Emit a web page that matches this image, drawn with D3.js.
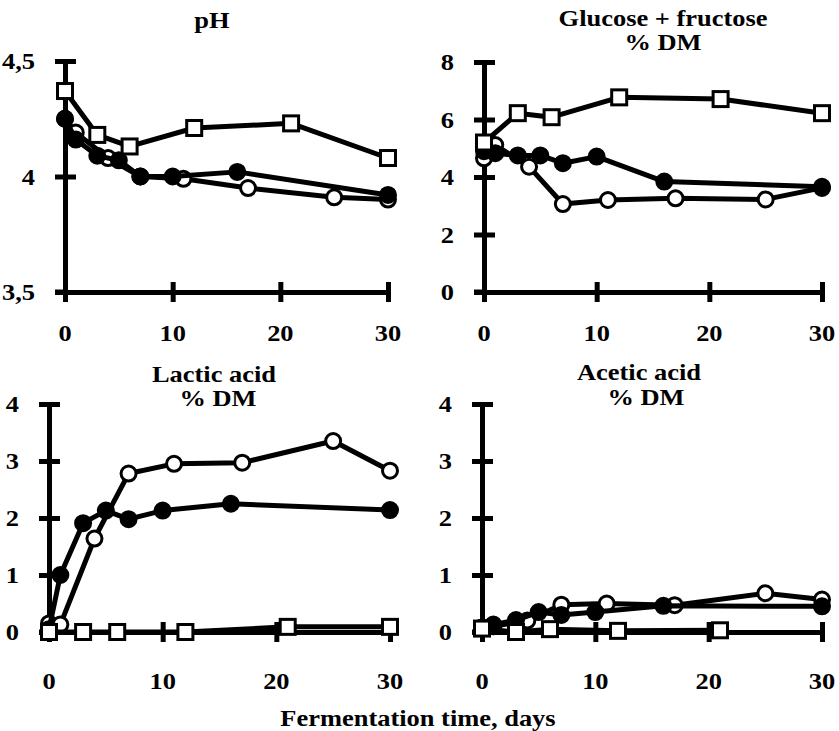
<!DOCTYPE html>
<html>
<head>
<meta charset="utf-8">
<script src="https://cdn.jsdelivr.net/npm/d3@7"></script>
<style>
  body { margin: 0; background: #fff; }
  text { font-family: "Liberation Serif", "Times New Roman", serif; font-weight: bold; fill: #000; }
</style>
</head>
<body>
<svg id="chart" width="839" height="731"></svg>
<script>
// sampling days for each series
const daysOpen = [0, 1, 4, 7, 11, 17, 25, 30];
const daysFilled = [0, 1, 3, 5, 7, 10, 16, 30];
const daysSquare = [0, 3, 6, 12, 21, 30];

// pH
const phOpen = [4.25, 4.19, 4.08, 4.0, 3.99, 3.95, 3.91, 3.90];
const phFilled = [4.25, 4.16, 4.09, 4.07, 4.0, 4.0, 4.02, 3.92];
const phSquare = [4.37, 4.18, 4.13, 4.21, 4.23, 4.08];

// glucose + fructose, % DM
const sugOpen = [4.65, 5.11, 4.36, 3.06, 3.2, 3.26, 3.22, 3.62];
const sugFilled = [4.9, 4.83, 4.75, 4.75, 4.48, 4.71, 3.84, 3.66];
const sugSquare = [5.2, 6.22, 6.08, 6.77, 6.71, 6.22];

// lactic acid, % DM
const lacOpen = [0.15, 0.13, 1.64, 2.78, 2.95, 2.97, 3.35, 2.83];
const lacFilled = [0.05, 1.0, 1.91, 2.13, 1.98, 2.13, 2.25, 2.14];
const lacSquare = [0, 0, 0, 0, 0.09, 0.09];

// acetic acid, % DM (no square at day 30)
const aceOpen = [0.08, 0.1, 0.2, 0.48, 0.5, 0.47, 0.68, 0.57];
const aceFilled = [0.08, 0.13, 0.21, 0.35, 0.3, 0.35, 0.46, 0.45];
const aceSquare = [0.06, 0, 0.05, 0.02, 0.03, null];

// tick labels
const dayTicks = [0, 10, 20, 30];
const phTicks = [3.5, 4, 4.5];
const sugTicks = [0, 2, 4, 6, 8];
const acidTicks = [0, 1, 2, 3, 4];

const svg = d3.select('#chart');
const SX = 1.15; // the original lettering is stretched sideways

function label(x, y, str, anchor) {
  svg.append('g')
    .attr('transform', 'translate(' + x + ',' + y + ') scale(' + SX + ',1)')
    .append('text')
    .attr('text-anchor', anchor || 'middle')
    .attr('font-size', '23px')
    .text(str);
}

function panel(p) {
  const x = d3.scaleLinear().domain([0, 30]).range([p.left, p.right]);
  const y = d3.scaleLinear().domain(p.ydom).range([p.bottom, p.top]);

  // axes with ticks crossing the line
  svg.append('g')
    .attr('transform', 'translate(0,' + p.bottom + ')')
    .call(d3.axisBottom(x).tickValues(dayTicks).tickSizeOuter(0).tickFormat(''))
    .call(g => g.select('.domain').attr('stroke-width', 5))
    .call(g => g.selectAll('.tick line').attr('y1', -10).attr('y2', 10).attr('stroke-width', 5));

  svg.append('g')
    .attr('transform', 'translate(' + p.left + ',0)')
    .call(d3.axisLeft(y).tickValues(p.ticks).tickSizeOuter(0).tickFormat(''))
    .call(g => g.select('.domain').attr('stroke-width', 5))
    .call(g => g.selectAll('.tick line').attr('x1', -10).attr('x2', 11).attr('stroke-width', 5));

  // extend x axis to the left tick
  svg.append('line')
    .attr('x1', p.left - 10).attr('x2', p.left)
    .attr('y1', p.bottom).attr('y2', p.bottom)
    .attr('stroke', '#000').attr('stroke-width', 5);

  p.ticks.forEach(t => label(p.left - 30, y(t) + 8, String(t).replace('.', ','), 'end'));
  dayTicks.forEach(t => label(x(t), p.bottom + p.xlabOff, String(t)));

  p.title.forEach(t => label(t[1], t[2], t[0]));

  const series = [
    { days: daysOpen, vals: p.open, type: 'open' },
    { days: daysFilled, vals: p.filled, type: 'filled' },
    { days: daysSquare, vals: p.square, type: 'square' }
  ];

  const line = d3.line()
    .x(d => x(d[0]))
    .y(d => y(d[1]));

  series.forEach(s => {
    const pts = s.days.map((d, i) => [d, s.vals[i]]).filter(d => d[1] != null);
    svg.append('path')
      .datum(pts)
      .attr('fill', 'none')
      .attr('stroke', '#000')
      .attr('stroke-width', 5)
      .attr('stroke-linejoin', 'round')
      .attr('d', line);

    if (s.type === 'square') {
      svg.selectAll(null)
        .data(pts)
        .enter().append('rect')
        .attr('x', d => x(d[0]) - 7.5)
        .attr('y', d => y(d[1]) - 7.5)
        .attr('width', 15).attr('height', 15)
        .attr('fill', '#fff').attr('stroke', '#000').attr('stroke-width', 3);
    } else {
      svg.selectAll(null)
        .data(pts)
        .enter().append('circle')
        .attr('cx', d => x(d[0]))
        .attr('cy', d => y(d[1]))
        .attr('r', 7.5)
        .attr('fill', s.type === 'filled' ? '#000' : '#fff')
        .attr('stroke', '#000').attr('stroke-width', 3);
    }
  });
}

panel({
  left: 65, right: 388, top: 61, bottom: 292, ydom: [3.5, 4.5], ticks: phTicks,
  open: phOpen, filled: phFilled, square: phSquare,
  xlabOff: 49, title: [['pH', 212, 28]]
});

panel({
  left: 484, right: 822, top: 62, bottom: 292, ydom: [0, 8], ticks: sugTicks,
  open: sugOpen, filled: sugFilled, square: sugSquare,
  xlabOff: 49, title: [['Glucose + fructose', 663, 26], ['% DM', 663, 50]]
});

panel({
  left: 49, right: 390, top: 404, bottom: 632, ydom: [0, 4], ticks: acidTicks,
  open: lacOpen, filled: lacFilled, square: lacSquare,
  xlabOff: 57, title: [['Lactic acid', 214, 382], ['% DM', 218, 406]]
});

panel({
  left: 482, right: 822, top: 404, bottom: 632, ydom: [0, 4], ticks: acidTicks,
  open: aceOpen, filled: aceFilled, square: aceSquare,
  xlabOff: 57, title: [['Acetic acid', 639, 380], ['% DM', 646, 405]]
});

label(418, 726, 'Fermentation time, days');
</script>
</body>
</html>
